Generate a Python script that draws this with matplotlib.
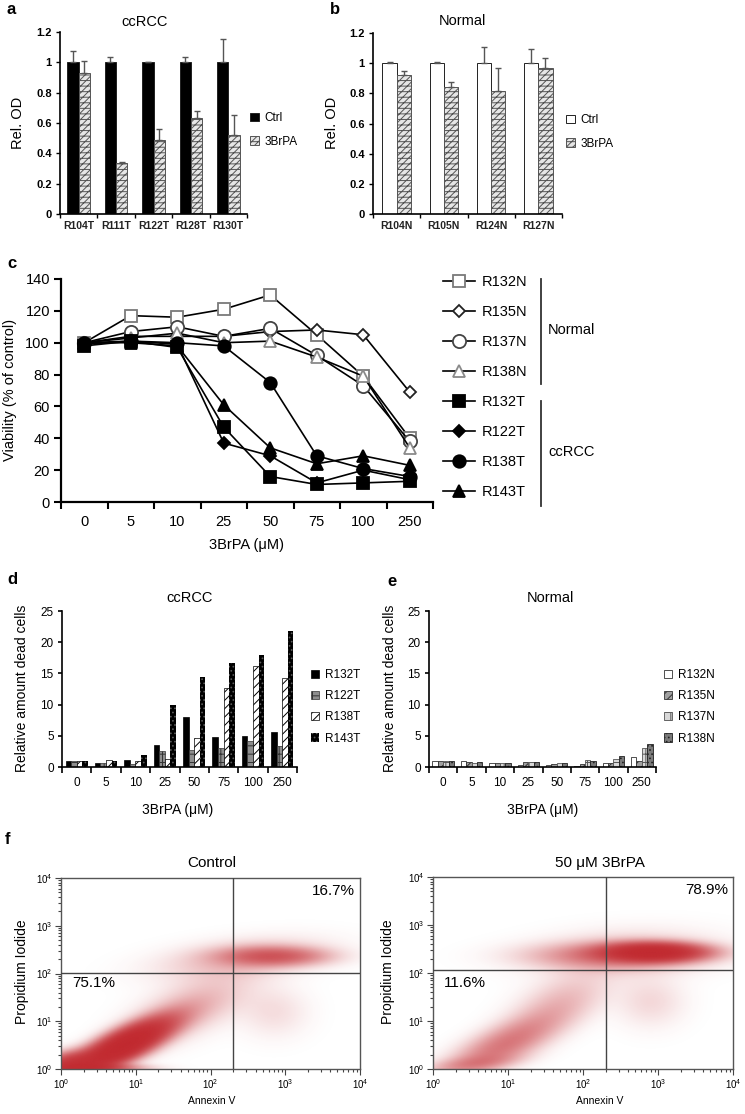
import numpy as np
import matplotlib
matplotlib.use('Agg')
import matplotlib.pyplot as plt
from matplotlib.patches import Patch
from matplotlib.colors import to_rgb

plt.rcParams['font.family'] = ['Liberation Sans', 'DejaVu Sans']
plt.rcParams['mathtext.fontset'] = 'custom'
plt.rcParams['mathtext.rm'] = 'Liberation Sans'
plt.rcParams['hatch.linewidth'] = 0.7

W, H = 745, 1114

# --- panel a / b : relative OD ---
a_samples = ['R104T', 'R111T', 'R122T', 'R128T', 'R130T']
a_ctrl = [1.0, 1.0, 1.0, 1.0, 1.0]
a_ctrl_err = [0.077, 0.033, 0.004, 0.037, 0.153]
a_brpa = [0.928, 0.336, 0.485, 0.634, 0.52]
a_brpa_err = [0.082, 0.005, 0.077, 0.044, 0.136]

b_samples = ['R104N', 'R105N', 'R124N', 'R127N']
b_ctrl = [1.0, 1.0, 1.0, 1.0]
b_ctrl_err = [0.01, 0.01, 0.108, 0.093]
b_brpa = [0.92, 0.839, 0.817, 0.971]
b_brpa_err = [0.027, 0.033, 0.154, 0.066]

od_ticks = [0, 0.2, 0.4, 0.6, 0.8, 1.0, 1.2]
od_ticklabels = ['0', '0.2', '0.4', '0.6', '0.8', '1', '1.2']

# --- panel c : viability ---
doses = ['0', '5', '10', '25', '50', '75', '100', '250']
via_R132N = [100, 117, 116, 121, 130, 105, 79, 40]
via_R135N = [100, 104, 104, 104, 107, 108, 105, 69]
via_R137N = [100, 107, 110, 104, 109, 92, 73, 38]
via_R138N = [100, 103, 106, 100, 101, 91, 79, 34]
via_R132T = [98, 101, 97, 47, 16, 11, 12, 13]
via_R122T = [99, 101, 99, 37, 29, 12, 20, 14]
via_R138T = [100, 101, 100, 98, 75, 29, 21, 16]
via_R143T = [100, 100, 98, 61, 34, 24, 29, 23]

# --- panel d / e : dead cells ---
dead_R132T = [0.9, 0.6, 1.1, 3.6, 8.0, 4.8, 4.9, 5.6]
dead_R122T = [0.9, 0.6, 0.5, 2.6, 2.7, 3.1, 4.2, 3.4]
dead_R138T = [0.9, 1.1, 0.9, 1.3, 4.6, 12.7, 16.2, 14.2]
dead_R143T = [0.9, 1.0, 1.9, 10.0, 14.4, 16.6, 18.0, 21.8]
dead_R132N = [0.9, 0.9, 0.7, 0.4, 0.4, 0.2, 0.6, 1.6]
dead_R135N = [0.9, 0.8, 0.7, 0.8, 0.5, 0.5, 0.6, 1.0]
dead_R137N = [0.9, 0.7, 0.7, 0.8, 0.6, 1.1, 1.3, 3.0]
dead_R138N = [0.9, 0.8, 0.7, 0.8, 0.7, 0.9, 1.7, 3.7]

# --- panel f : flow cytometry cell clouds (log10 units) ---
# centre x, centre y, spread along / across the main direction, angle, weight
ctrl_cx = [0.85, 0.08, 0.45, 1.75, 2.85, 2.4, 2.85]
ctrl_cy = [0.5, 0.1, 0.02, 1.3, 2.36, 2.3, 1.2]
ctrl_s1 = [0.5, 0.25, 0.4, 0.6, 0.45, 0.7, 0.3]
ctrl_s2 = [0.17, 0.15, 0.06, 0.3, 0.13, 0.25, 0.35]
ctrl_ang = [40, 20, 0, 40, 0, 10, 0]
ctrl_wt = [3.5, 1.6, 1.0, 0.3, 0.9, 0.28, 0.12]
ctrl_gate = (2.3, 2.02)
ctrl_pct = ['16.7%', '75.1%']

trt_cx = [2.95, 2.4, 2.55, 0.95, 1.7, 2.9, 0.5]
trt_cy = [2.42, 2.35, 2.4, 0.5, 1.4, 1.4, 0.1]
trt_s1 = [0.42, 0.7, 0.75, 0.6, 0.5, 0.3, 0.4]
trt_s2 = [0.12, 0.17, 0.3, 0.22, 0.28, 0.35, 0.1]
trt_ang = [0, 0, 5, 40, 45, 0, 10]
trt_wt = [2.6, 0.6, 0.22, 0.7, 0.25, 0.14, 0.3]
trt_gate = (2.3, 2.07)
trt_pct = ['78.9%', '11.6%']

flow_ticklabels = ['$10^{0}$', '$10^{1}$', '$10^{2}$', '$10^{3}$', '$10^{4}$']
RED = '#c1272d'


def box(x0, y0, x1, y1):
    return [x0 / W, 1 - y1 / H, (x1 - x0) / W, (y1 - y0) / H]


def ftext(x, y, s, **kw):
    fig.text(x / W, 1 - y / H, s, **kw)


def fig_legend(ax, handles, labels, x, y, **kw):
    ax.legend(handles, labels, loc='upper left', bbox_to_anchor=(x / W, 1 - y / H),
              bbox_transform=fig.transFigure, frameon=False, borderpad=0,
              borderaxespad=0, **kw)


def clean(ax, lw=1.2):
    for s in ['top', 'right']:
        ax.spines[s].set_visible(False)
    for s in ['left', 'bottom']:
        ax.spines[s].set_linewidth(lw)


fig = plt.figure(figsize=(W / 100, H / 100), dpi=100)

BRPA_HATCH = '/////---'


def od_panel(rect, samples, ctrl, ctrl_err, brpa, brpa_err, ctrl_fc, leg_xy):
    ax = fig.add_axes(rect)
    x = np.arange(len(samples))
    bw = 0.3
    ekw = dict(ecolor='#555555', elinewidth=1, capsize=2, capthick=1)
    ax.bar(x - bw / 2, ctrl, bw, facecolor=ctrl_fc, edgecolor='#222222', lw=0.7,
           yerr=[np.zeros(len(x)), ctrl_err], error_kw=ekw)
    ax.bar(x + bw / 2, brpa, bw, facecolor='#e6e6e6', edgecolor='#555555', lw=0.7,
           hatch=BRPA_HATCH, yerr=[np.zeros(len(x)), brpa_err], error_kw=ekw)
    ax.set_xlim(-0.5, len(x) - 0.5)
    ax.set_ylim(0, 1.2)
    ax.set_yticks(od_ticks)
    ax.set_yticklabels(od_ticklabels, fontsize=8, fontweight='bold')
    ax.set_xticks(x)
    ax.set_xticklabels(samples, fontsize=7.5, fontweight='bold', color='#222222')
    ax.set_xticks(np.arange(len(x) + 1) - 0.5, minor=True)
    ax.tick_params(axis='x', which='major', length=0, pad=5)
    ax.tick_params(axis='x', which='minor', length=3, width=1)
    ax.tick_params(axis='y', length=3, width=1, pad=3)
    clean(ax)
    h = [Patch(facecolor=ctrl_fc, edgecolor='#222222', lw=0.7),
         Patch(facecolor='#e6e6e6', edgecolor='#555555', hatch=BRPA_HATCH, lw=0.7)]
    fig_legend(ax, h, ['Ctrl', '3BrPA'], leg_xy[0], leg_xy[1], fontsize=8.5,
               handlelength=0.75, handleheight=0.75, handletextpad=0.5, labelspacing=1.0)
    return ax


od_panel(box(60, 32, 247, 214), a_samples, a_ctrl, a_ctrl_err, a_brpa, a_brpa_err,
         'black', (250, 112))
od_panel(box(373, 33, 562, 214), b_samples, b_ctrl, b_ctrl_err, b_brpa, b_brpa_err,
         'white', (566, 114))

# --- panel c ---
ax = fig.add_axes(box(61, 279, 433, 502))
xc = np.arange(len(doses))
via_series = [
    (via_R132N, 's', 9, 'white', '#7a7a7a', 'R132N'),
    (via_R135N, 'D', 6.5, 'white', '#222222', 'R135N'),
    (via_R137N, 'o', 9.5, 'white', '#444444', 'R137N'),
    (via_R138N, '^', 9, 'white', '#8a8a8a', 'R138N'),
    (via_R132T, 's', 8.5, 'black', 'black', 'R132T'),
    (via_R122T, 'D', 6.5, 'black', 'black', 'R122T'),
    (via_R138T, 'o', 9, 'black', 'black', 'R138T'),
    (via_R143T, '^', 9, 'black', 'black', 'R143T'),
]
handles = []
for vals, m, ms, fc, ec, lab in via_series:
    ln, = ax.plot(xc, vals, color='black', lw=1.2, marker=m, ms=ms, mfc=fc, mec=ec,
                  mew=1.3, label=lab)
    handles.append(ln)
ax.set_xlim(-0.5, len(doses) - 0.5)
ax.set_ylim(0, 140)
ax.set_yticks(range(0, 141, 20))
ax.set_xticks(xc)
ax.set_xticklabels(doses)
ax.set_xticks(np.arange(len(doses) + 1) - 0.5, minor=True)
ax.tick_params(axis='x', which='major', length=0, pad=9, labelsize=10.5)
ax.tick_params(axis='x', which='minor', length=5, width=1.5)
ax.tick_params(axis='y', length=5, width=1.5, labelsize=10.5, pad=3)
clean(ax, 1.6)
fig_legend(ax, handles, [h.get_label() for h in handles], 443, 275, fontsize=10.5,
           handlelength=2.2, handletextpad=0.45, labelspacing=1.1)
ftext(247, 545, '3BrPA (\u03bcM)', fontsize=10.5, ha='center', va='center')
ftext(10, 390, 'Viability (% of control)', fontsize=10.5, ha='center', va='center',
      rotation=90)


# --- panels d / e ---
def dead_panel(rect, series, labels, styles, leg_x, title, title_x, ylab_x, xlab_x):
    ax = fig.add_axes(rect)
    x = np.arange(len(doses))
    bw = 0.19
    for i, (vals, st) in enumerate(zip(series, styles)):
        ax.bar(x + (i - 1.5) * bw, vals, bw, **st)
    ax.set_xlim(-0.5, len(doses) - 0.5)
    ax.set_ylim(0, 25)
    ax.set_yticks(range(0, 26, 5))
    ax.set_xticks(x)
    ax.set_xticklabels(doses)
    ax.set_xticks(np.arange(len(doses) + 1) - 0.5, minor=True)
    ax.tick_params(axis='x', which='major', length=0, pad=7, labelsize=8.5)
    ax.tick_params(axis='x', which='minor', length=4, width=1.2)
    ax.tick_params(axis='y', length=3, width=1.2, labelsize=8.5, pad=3)
    clean(ax, 1.2)
    h = [Patch(**st) for st in styles]
    fig_legend(ax, h, labels, leg_x, 669, fontsize=8.5, handlelength=0.7,
               handleheight=0.7, handletextpad=0.5, labelspacing=0.78)
    ftext(title_x, 598, title, fontsize=10.5, ha='center', va='center')
    ftext(ylab_x, 688, 'Relative amount dead cells', fontsize=10, ha='center',
          va='center', rotation=90)
    ftext(xlab_x, 810, '3BrPA (\u03bcM)', fontsize=10, ha='center', va='center')


styles_t = [dict(facecolor='black', edgecolor='black', lw=0.5),
            dict(facecolor='#8e8e8e', edgecolor='#333333', hatch='++', lw=0.5),
            dict(facecolor='white', edgecolor='black', hatch='////', lw=0.5),
            dict(facecolor='black', edgecolor='#5a5a5a', hatch='....', lw=0)]
styles_n = [dict(facecolor='white', edgecolor='#333333', lw=0.6),
            dict(facecolor='#a0a0a0', edgecolor='#333333', hatch='////', lw=0.6),
            dict(facecolor='#d8d8d8', edgecolor='#555555', hatch='++', lw=0.6),
            dict(facecolor='#7a7a7a', edgecolor='#222222', hatch='....', lw=0.6)]
dead_panel(box(62, 611, 297, 767), [dead_R132T, dead_R122T, dead_R138T, dead_R143T],
           ['R132T', 'R122T', 'R138T', 'R143T'], styles_t, 311, 'ccRCC', 190, 22, 178)
dead_panel(box(429, 611, 656, 767), [dead_R132N, dead_R135N, dead_R137N, dead_R138N],
           ['R132N', 'R135N', 'R137N', 'R138N'], styles_n, 664, 'Normal', 550, 390, 543)


# --- panel f ---
def cloud_image(cx, cy, s1, s2, ang, wt, n=400):
    g = (np.arange(n) + 0.5) / n * 4
    gx, gy = np.meshgrid(g, g)
    dens = np.zeros_like(gx)
    for x0, y0, a, b, t, w in zip(cx, cy, s1, s2, ang, wt):
        c, s = np.cos(np.radians(t)), np.sin(np.radians(t))
        u = (gx - x0) * c + (gy - y0) * s
        v = -(gx - x0) * s + (gy - y0) * c
        dens += w * np.exp(-0.5 * ((u / a) ** 2 + (v / b) ** 2))
    img = np.zeros((n, n, 4))
    img[..., :3] = to_rgb(RED)
    img[..., 3] = 1 - np.exp(-1.4 * dens)
    return img


def flow_panel(rect, cloud, gate, pct, title, tx, ylab_x):
    ax = fig.add_axes(rect)
    ax.imshow(cloud_image(*cloud), extent=(0, 4, 0, 4), origin='lower', aspect='auto',
              interpolation='bilinear', zorder=1)
    ax.axvline(gate[0], color='#444444', lw=1, zorder=3)
    ax.axhline(gate[1], color='#444444', lw=1, zorder=3)
    ax.set_xlim(0, 4)
    ax.set_ylim(0, 4)
    ax.set_xticks(range(5))
    ax.set_yticks(range(5))
    ax.set_xticklabels(flow_ticklabels)
    ax.set_yticklabels(flow_ticklabels)
    minor = [d + np.log10(k) for d in range(4) for k in range(2, 10)]
    ax.set_xticks(minor, minor=True)
    ax.set_yticks(minor, minor=True)
    ax.tick_params(which='both', labelsize=7, color='#444444', width=0.8)
    ax.tick_params(which='major', length=4, pad=2)
    ax.tick_params(which='minor', length=2)
    for s in ax.spines.values():
        s.set_color('#555555')
        s.set_linewidth(1)
    ax.text(3.93, 3.72, pct[0], fontsize=11, ha='right', va='center', zorder=4)
    ax.text(0.15, 1.8, pct[1], fontsize=11, ha='left', va='center', zorder=4)
    ftext(tx, 863, title, fontsize=11, ha='center', va='center')
    ftext(ylab_x, 972, 'Propidium Iodide', fontsize=10, ha='center', va='center',
          rotation=90)
    ftext(tx, 1101, 'Annexin V', fontsize=7.5, ha='center', va='center')


flow_panel(box(61, 878, 360, 1069),
           (ctrl_cx, ctrl_cy, ctrl_s1, ctrl_s2, ctrl_ang, ctrl_wt),
           ctrl_gate, ctrl_pct, 'Control', 212, 22)
flow_panel(box(433, 877, 733, 1069),
           (trt_cx, trt_cy, trt_s1, trt_s2, trt_ang, trt_wt),
           trt_gate, trt_pct, '50 \u03bcM 3BrPA', 600, 388)

# --- titles, axis labels, panel letters ---
ftext(145, 22, 'ccRCC', fontsize=10.5, ha='center', va='center')
ftext(462, 21, 'Normal', fontsize=10.5, ha='center', va='center')
ftext(18, 123, 'Rel. OD', fontsize=10.5, ha='center', va='center', rotation=90)
ftext(332, 123, 'Rel. OD', fontsize=10.5, ha='center', va='center', rotation=90)
for lt, (lx, ly) in zip('abcdef', [(7, 10), (330, 10), (7, 263), (7, 580),
                                    (387, 581), (5, 840)]):
    ftext(lx, ly, lt, fontsize=12, fontweight='bold', ha='left', va='center')

# brackets for the legend groups in panel c
ov = fig.add_axes([0, 0, 1, 1], zorder=-1)
ov.set_xlim(0, W)
ov.set_ylim(H, 0)
ov.axis('off')
ov.plot([541, 541], [279, 384], color='#333333', lw=1.3)
ov.plot([541, 541], [401, 506], color='#333333', lw=1.3)
ov.text(548, 330, 'Normal', fontsize=10.5, ha='left', va='center')
ov.text(548, 452, 'ccRCC', fontsize=10.5, ha='left', va='center')

fig.savefig('out.png', dpi=100)
